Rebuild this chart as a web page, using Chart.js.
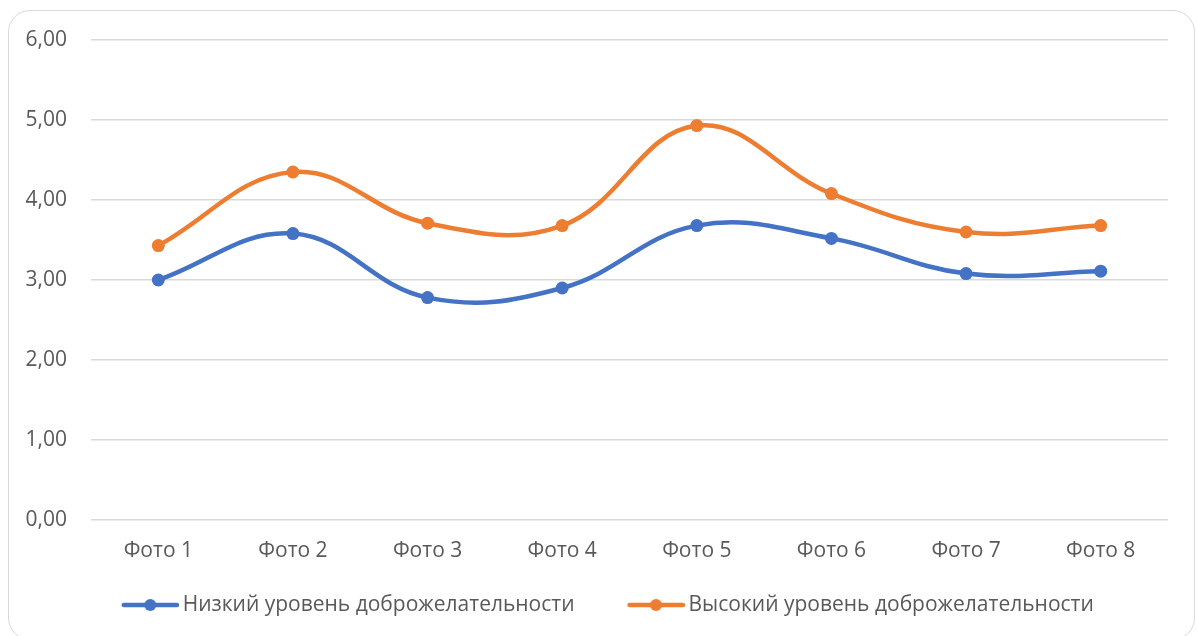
<!DOCTYPE html>
<html>
<head>
<meta charset="utf-8">
<script src="https://cdn.jsdelivr.net/npm/chart.js@4"></script>
<style>
  html, body { margin: 0; padding: 0; background: #ffffff; overflow: hidden; }
  #frame { position: absolute; left: 8px; top: 10px; width: 1185px; height: 628px;
           border: 1.5px solid #d9d9d9; border-radius: 22px; background: #fff; }
  #wrap { position: absolute; left: 0; top: 0; width: 1198px; height: 636px; }
</style>
</head>
<body>
<div id="frame"></div>
<div id="wrap"><canvas id="c" width="1198" height="636"></canvas></div>
<script>
const categories = ["Фото 1", "Фото 2", "Фото 3", "Фото 4", "Фото 5", "Фото 6", "Фото 7", "Фото 8"];
const lowLabel = "Низкий уровень доброжелательности";
const highLabel = "Высокий уровень доброжелательности";
const lowValues = [3.00, 3.58, 2.78, 2.90, 3.68, 3.52, 3.08, 3.11];
const highValues = [3.43, 4.35, 3.71, 3.68, 4.93, 4.08, 3.60, 3.68];
const yTicks = [0, 1, 2, 3, 4, 5, 6];

const BLUE = "#4472C4";
const ORANGE = "#ED7D31";
const TEXT = "#595959";
const GRID = "#d9d9d9";
const FONT = "'Open Sans', 'Noto Sans', sans-serif";

// legend icon: transparent spacer on the left, then line with a dot
function legendIcon(color) {
  const cv = document.createElement('canvas');
  cv.width = 87; cv.height = 14;
  const g = cv.getContext('2d');
  g.strokeStyle = color; g.lineWidth = 4.5; g.lineCap = 'round';
  g.beginPath(); g.moveTo(32, 7); g.lineTo(85, 7); g.stroke();
  g.fillStyle = color;
  g.beginPath(); g.arc(58.5, 7, 6, 0, Math.PI * 2); g.fill();
  return cv;
}
const icons = [legendIcon(BLUE), legendIcon(ORANGE)];

new Chart(document.getElementById('c'), {
  type: 'line',
  data: {
    labels: categories,
    datasets: [
      { label: lowLabel, data: lowValues, borderColor: BLUE, backgroundColor: BLUE,
        borderWidth: 4.5, pointRadius: 6.5, pointBackgroundColor: BLUE, pointBorderWidth: 0,
        tension: 0.4, fill: false },
      { label: highLabel, data: highValues, borderColor: ORANGE, backgroundColor: ORANGE,
        borderWidth: 4.5, pointRadius: 6.5, pointBackgroundColor: ORANGE, pointBorderWidth: 0,
        tension: 0.4, fill: false }
    ]
  },
  options: {
    responsive: false,
    animation: false,
    layout: { padding: { top: 40, right: 30, left: 24, bottom: 10.5 } },
    plugins: {
      tooltip: { enabled: false },
      legend: {
        position: 'bottom',
        labels: {
          usePointStyle: true,
          pointStyleWidth: 74,
          padding: 29.5,
          color: TEXT,
          font: { family: FONT, size: 21 },
          generateLabels: (chart) => chart.data.datasets.map((ds, i) => ({
            text: ds.label, pointStyle: icons[i], fillStyle: ds.borderColor,
            strokeStyle: ds.borderColor, lineWidth: 0, hidden: false, datasetIndex: i,
            fontColor: TEXT
          }))
        }
      }
    },
    scales: {
      x: {
        offset: true,
        grid: { display: false, drawTicks: false },
        border: { display: false },
        ticks: { color: TEXT, font: { family: FONT, size: 21 }, padding: 18, maxRotation: 0 },
        afterFit: (s) => { s.height = 45; }
      },
      y: {
        min: 0, max: 6,
        afterBuildTicks: (s) => { s.ticks = yTicks.map(v => ({ value: v })); },
        grid: { color: GRID, lineWidth: 1.5, drawTicks: false },
        border: { display: false },
        ticks: { color: TEXT, font: { family: FONT, size: 21 }, padding: 24,
                 callback: (v) => Number(v).toFixed(2).replace('.', ',') },
        afterFit: (s) => { s.width = 67; }
      }
    }
  }
});
</script>
</body>
</html>
